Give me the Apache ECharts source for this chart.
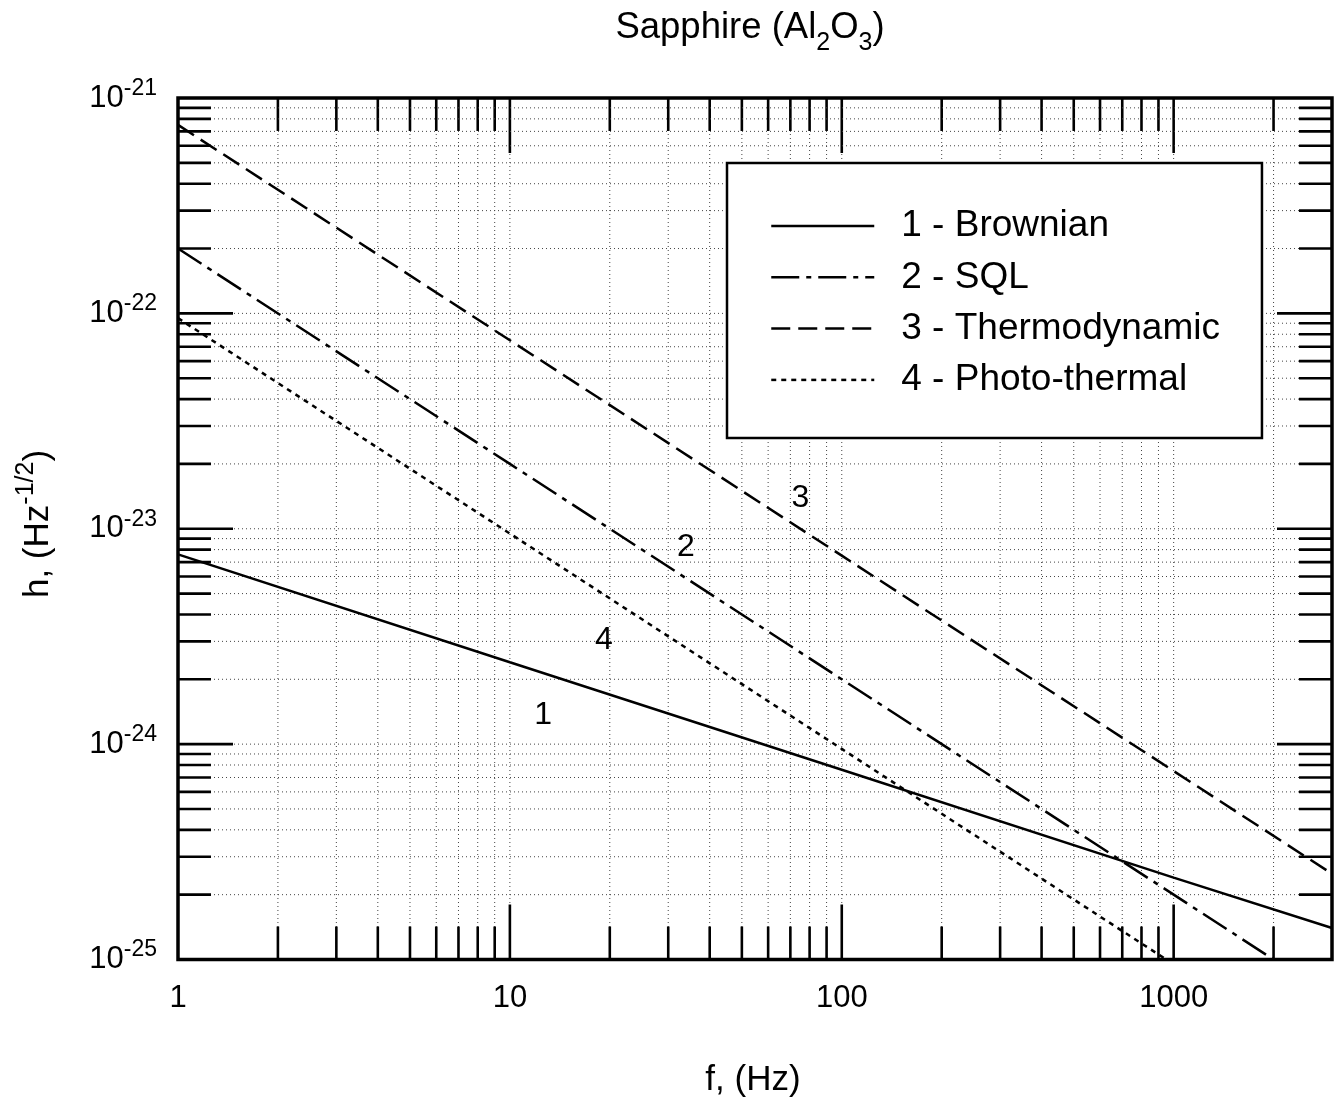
<!DOCTYPE html>
<html><head><meta charset="utf-8">
<script src="https://cdn.jsdelivr.net/npm/echarts@6/dist/echarts.min.js"></script>
<style>html,body{margin:0;padding:0;background:#fff}#c{width:1343px;height:1105px}</style>
</head><body><div id="c"></div>
<script>
// ---- data ----
const freqBrownian = [1, 10, 100, 1000, 3000];
const hBrownian    = [7.6e-24, 2.4e-24, 7.6e-25, 2.4e-25, 1.4e-25];
const freqSQL      = [1, 10, 100, 1000, 2000];
const hSQL         = [2.0e-22, 2.0e-23, 2.0e-24, 2.0e-25, 1.0e-25];
const freqThermo   = [1, 10, 100, 1000, 3000];
const hThermo      = [7.5e-22, 7.5e-23, 7.5e-24, 7.5e-25, 2.5e-25];
const freqPhoto    = [1, 10, 100, 950];
const hPhoto       = [9.5e-23, 9.5e-24, 9.5e-25, 1.0e-25];
const seriesNames  = ['1 - Brownian', '2 - SQL', '3 - Thermodynamic', '4 - Photo-thermal'];
const curveLabelName = ['1', '4', '3', '2'];
const curveLabelF    = [12.6, 19.2, 75.1, 33.9];
const curveLabelH    = [1.37e-24, 3.05e-24, 1.39e-23, 8.25e-24];
const xMin = 1, xMax = 3000, yMin = 1e-25, yMax = 1e-21;
const xDecades = [1, 10, 100, 1000];
const yDecades = [1e-25, 1e-24, 1e-23, 1e-22];
const minorMult = [1, 2, 3, 4, 5, 6, 7, 8, 9];

const FONT = 'Liberation Sans, Arial, Helvetica, sans-serif';

const xGridData = [];
xDecades.forEach(d => minorMult.forEach(m => {
  const v = d * m;
  if (v > xMin && v < xMax) xGridData.push([v, 1e-23, m === 1 ? 1 : 0]);
}));
const yGridData = [];
yDecades.forEach(d => minorMult.forEach(m => {
  const v = d * m;
  if (v > yMin * 1.0001 && v < yMax * 0.9999) yGridData.push([10, v, m === 1 ? 1 : 0]);
}));

const MAJ = 55, MIN = 33, TW = 2.6;
const gridStyle = {stroke: '#444', lineWidth: 1, lineDash: [1, 3]};
const tickStyle = {stroke: '#000', lineWidth: TW};

function renderXGrid(params, api) {
  const cs = params.coordSys;
  const x = api.coord([api.value(0), api.value(1)])[0];
  const len = api.value(2) ? MAJ : MIN;
  const top = cs.y, bot = cs.y + cs.height;
  return {type: 'group', children: [
    {type: 'line', shape: {x1: x, y1: top, x2: x, y2: bot}, style: gridStyle},
    {type: 'line', shape: {x1: x, y1: bot, x2: x, y2: bot - len}, style: tickStyle},
    {type: 'line', shape: {x1: x, y1: top, x2: x, y2: top + len}, style: tickStyle}
  ]};
}
function renderYGrid(params, api) {
  const cs = params.coordSys;
  const y = api.coord([api.value(0), api.value(1)])[1];
  const len = api.value(2) ? MAJ : MIN;
  const l = cs.x, r = cs.x + cs.width;
  return {type: 'group', children: [
    {type: 'line', shape: {x1: l, y1: y, x2: r, y2: y}, style: gridStyle},
    {type: 'line', shape: {x1: l, y1: y, x2: l + len, y2: y}, style: tickStyle},
    {type: 'line', shape: {x1: r, y1: y, x2: r - len, y2: y}, style: tickStyle}
  ]};
}

function pairs(fs, hs) { return fs.map((f, i) => [f, hs[i]]); }
const isDecade = v => v > 0 && Math.abs(Math.log10(v) - Math.round(Math.log10(v))) < 1e-6;
const powLabel = v => '{b|10}{s|' + Math.round(Math.log10(v)) + '}';
function yLabel(v) { return isDecade(v) ? powLabel(v) : ''; }
const yRich = {
  b: {fontSize: 31, lineHeight: 42, verticalAlign: 'middle', fontFamily: FONT, color: '#000', fill: '#000'},
  s: {fontSize: 23, lineHeight: 42, verticalAlign: 'top', fontFamily: FONT, color: '#000', fill: '#000'}
};

const lineBase = {type: 'line', symbol: 'none', showSymbol: false, animation: false, silent: true, z: 5};

const chart = echarts.init(document.getElementById('c'), null, {renderer: 'canvas'});
const graphics = [
  {type: 'text', x: 750, y: 28, z: 10, style: {
    text: '{a|Sapphire (Al}{s|2}{a|O}{s|3}{a|)}', align: 'center', verticalAlign: 'middle',
    rich: {
      a: {fontSize: 36.5, lineHeight: 56, verticalAlign: 'middle', fontFamily: FONT, fill: '#000'},
      s: {fontSize: 25, lineHeight: 56, verticalAlign: 'bottom', fontFamily: FONT, fill: '#000'}
    }}},
  {type: 'text', x: 753, y: 1080, z: 10, style: {
    text: 'f, (Hz)', align: 'center', verticalAlign: 'middle', fontSize: 35, fontFamily: FONT, fill: '#000'}},
  {type: 'text', x: 38, y: 524, rotation: Math.PI / 2, z: 10, style: {
    text: '{a|h, (Hz}{s|-1/2}{a|)}', align: 'center', verticalAlign: 'middle',
    rich: {
      a: {fontSize: 35, lineHeight: 48, verticalAlign: 'middle', fontFamily: FONT, fill: '#000'},
      s: {fontSize: 25, lineHeight: 48, verticalAlign: 'top', fontFamily: FONT, fill: '#000'}
    }}}
];
chart.setOption({
  backgroundColor: '#fff',
  animation: false,
  grid: {left: 178, right: 11, top: 98, bottom: 145.5, show: true, borderColor: '#000', borderWidth: 3.5,
         backgroundColor: 'transparent', containLabel: false, outerBoundsMode: 'none'},
  xAxis: {
    type: 'log', logBase: 10, min: xMin, max: xMax,
    axisLine: {show: false}, axisTick: {show: false}, splitLine: {show: false}, minorTick: {show: false},
    axisLabel: {
      margin: 23, fontSize: 31, color: '#000', fontFamily: FONT, showMaxLabel: false,
      formatter: v => isDecade(v) ? String(Math.round(v)) : ''
    }
  },
  yAxis: {
    type: 'log', logBase: 10, min: yMin, max: yMax,
    axisLine: {show: false}, axisTick: {show: false}, splitLine: {show: false}, minorTick: {show: false},
    axisLabel: {margin: 21, color: '#000', fontFamily: FONT, formatter: yLabel, rich: yRich}
  },
  legend: {
    orient: 'vertical', left: 727, top: 163,
    data: seriesNames.map(n => ({name: n})),
    itemWidth: 103, itemHeight: 40, itemGap: 11.3,
    padding: [43, 42, 38, 43],
    backgroundColor: '#fff', borderColor: '#000', borderWidth: 2.5, borderRadius: 0,
    selectedMode: false,
    itemStyle: {opacity: 0},
    lineStyle: {width: 2.5},
    textStyle: {fontSize: 37, lineHeight: 40, color: '#000', fontFamily: FONT, padding: [0, 0, 0, 22]}
  },
  graphic: graphics,
  series: [
    {type: 'custom', coordinateSystem: 'cartesian2d', data: xGridData, renderItem: renderXGrid, silent: true, animation: false, z: 1},
    {type: 'custom', coordinateSystem: 'cartesian2d', data: yGridData, renderItem: renderYGrid, silent: true, animation: false, z: 1},
    Object.assign({}, lineBase, {name: seriesNames[0], data: pairs(freqBrownian, hBrownian),
      lineStyle: {color: '#000', width: 2.5, type: 'solid'}, itemStyle: {color: '#000'}}),
    Object.assign({}, lineBase, {name: seriesNames[1], data: pairs(freqSQL, hSQL),
      lineStyle: {color: '#000', width: 2.5, type: [28, 7, 5, 7]}, itemStyle: {color: '#000'}}),
    Object.assign({}, lineBase, {name: seriesNames[2], data: pairs(freqThermo, hThermo),
      lineStyle: {color: '#000', width: 2.5, type: [19, 8]}, itemStyle: {color: '#000'}}),
    Object.assign({}, lineBase, {name: seriesNames[3], data: pairs(freqPhoto, hPhoto),
      lineStyle: {color: '#000', width: 2.5, type: [5, 5]}, itemStyle: {color: '#000'}})
  ]
});
// The log scale rounds its tiny lower end away, so the bottom decade label is
// placed at the axis' own pixel for yMin.
const pMin = chart.convertToPixel({gridIndex: 0}, [xMin, yMin]);
graphics.push({type: 'text', x: pMin[0] - 21, y: pMin[1], z: 10, style: {
  text: powLabel(yMin), align: 'right', verticalAlign: 'middle', rich: yRich}});
// curve number labels, placed through the axes' scales
curveLabelF.forEach((f, i) => {
  const p = chart.convertToPixel({gridIndex: 0}, [f, curveLabelH[i]]);
  graphics.push({type: 'text', x: p[0], y: p[1], z: 10, style: {
    text: curveLabelName[i], align: 'center', verticalAlign: 'middle', fontSize: 32, fontFamily: FONT, fill: '#000'}});
});
chart.setOption({graphic: graphics});
</script>
</body></html>
